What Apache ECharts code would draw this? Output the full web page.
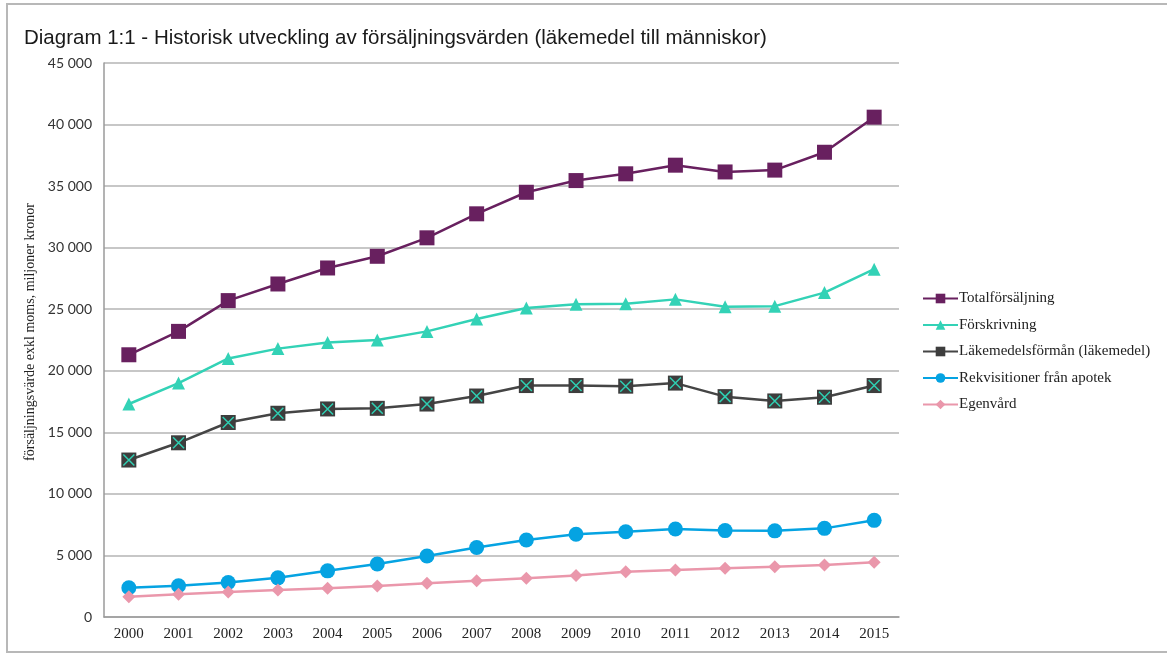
<!DOCTYPE html>
<html>
<head>
<meta charset="utf-8">
<script src="https://cdn.jsdelivr.net/npm/echarts@6/dist/echarts.min.js"></script>
<style>
  html, body { margin: 0; padding: 0; background: #fff; }
  #chart { width: 1167px; height: 655px; }
</style>
</head>
<body>
<div id="chart"></div>
<script>
const years = ["2000", "2001", "2002", "2003", "2004", "2005", "2006", "2007",
  "2008", "2009", "2010", "2011", "2012", "2013", "2014", "2015"];

const totalforsaljning = [21300, 23200, 25700, 27050, 28350, 29300, 30800, 32750,
  34500, 35450, 36000, 36700, 36150, 36300, 37750, 40600];
const forskrivning = [17300, 19000, 21000, 21800, 22300, 22500, 23200, 24200,
  25100, 25400, 25450, 25800, 25200, 25250, 26350, 28250];
const lakemedelsforman = [12750, 14150, 15800, 16550, 16900, 16950, 17300, 17950,
  18800, 18800, 18750, 19000, 17900, 17550, 17850, 18800];
const rekvisitioner = [2380, 2540, 2800, 3180, 3750, 4300, 4950, 5650,
  6250, 6720, 6930, 7150, 7020, 7000, 7200, 7850];
const egenvard = [1650, 1840, 2030, 2200, 2340, 2520, 2740, 2950,
  3150, 3370, 3680, 3820, 3960, 4090, 4220, 4440];

const seriesNames = ["Totalförsäljning", "Förskrivning", "Läkemedelsförmån (läkemedel)",
  "Rekvisitioner från apotek", "Egenvård"];

const serif = "'Liberation Serif', 'DejaVu Serif', serif";

const chart = echarts.init(document.getElementById("chart"));

// linje + markör, samma stil för alla serier
const makeLine = (name, data, color, symbol, size, extra) => Object.assign({
  name: name,
  type: "line",
  data: data,
  symbol: symbol,
  symbolSize: size,
  showAllSymbol: true,
  lineStyle: { width: 2.5, color: color },
  itemStyle: { color: color },
  emphasis: { disabled: true },
  z: 3,
}, extra || {});

chart.setOption({
  animation: false,
  title: {
    text: "Diagram 1:1 - Historisk utveckling av försäljningsvärden (läkemedel till människor)",
    left: 19,
    top: 23,
    textStyle: {
      fontFamily: "'Liberation Sans', Arial, sans-serif",
      fontSize: 20.5,
      fontWeight: "normal",
      color: "#1a1a1a",
    },
  },
  graphic: [
    {
      type: "rect",
      shape: { x: 7, y: 4, width: 1180, height: 648 },
      style: { fill: "none", stroke: "#b8b8b8", lineWidth: 2 },
      silent: true,
    },
  ],
  legend: {
    data: seriesNames,
    orient: "vertical",
    left: 917,
    top: 286,
    itemGap: 11.5,
    itemWidth: 35,
    itemHeight: 12,
    textStyle: { fontFamily: serif, fontSize: 15, color: "#222", padding: [0, 0, 0, -4] },
  },
  grid: { left: 104, right: 268, top: 63, bottom: 38, outerBoundsMode: "none" },
  xAxis: {
    type: "category",
    data: years,
    boundaryGap: true,
    axisLine: { lineStyle: { color: "#9a9a9a", width: 1.5 } },
    axisTick: { show: false },
    axisLabel: { fontFamily: serif, fontSize: 15, color: "#222", margin: 10 },
  },
  yAxis: {
    type: "value",
    min: 0,
    max: 45000,
    interval: 5000,
    name: "försäljningsvärde exkl moms, miljoner kronor",
    nameLocation: "middle",
    nameGap: 67,
    nameTextStyle: { fontFamily: serif, fontSize: 14, color: "#222", padding: [0, 0, 0, 16] },
    axisLine: { show: true, lineStyle: { color: "#9a9a9a", width: 1.5 } },
    axisTick: { show: false },
    splitLine: { lineStyle: { color: "#b4b4b4", width: 1.5 } },
    axisLabel: {
      fontFamily: "Lato, 'Open Sans', sans-serif",
      fontSize: 14,
      color: "#333",
      margin: 12,
      formatter: (v) => v === 0 ? "0" : String(v).replace(/\B(?=(\d{3})+(?!\d))/g, " "),
    },
  },
  series: [
    makeLine(seriesNames[0], totalforsaljning, "#68205f", "rect", 15),
    makeLine(seriesNames[1], forskrivning, "#33d2b6", "triangle", 13),
    makeLine(seriesNames[2], lakemedelsforman, "#454545", "rect", 15, {
      itemStyle: { color: "#3d3d3d" },
    }),
    // kryss ovanpå de mörka rutorna
    {
      name: "kryss",
      type: "line",
      data: lakemedelsforman,
      symbol: "path://M0,0 L10,10 M10,0 L0,10",
      symbolSize: 11,
      showAllSymbol: true,
      lineStyle: { opacity: 0 },
      itemStyle: { color: "none", borderColor: "#2fcfb2", borderWidth: 1.5 },
      emphasis: { disabled: true },
      silent: true,
      z: 4,
    },
    makeLine(seriesNames[3], rekvisitioner, "#05a3e2", "circle", 15),
    makeLine(seriesNames[4], egenvard, "#ea97ab", "diamond", 13),
  ],
});
</script>
</body>
</html>
